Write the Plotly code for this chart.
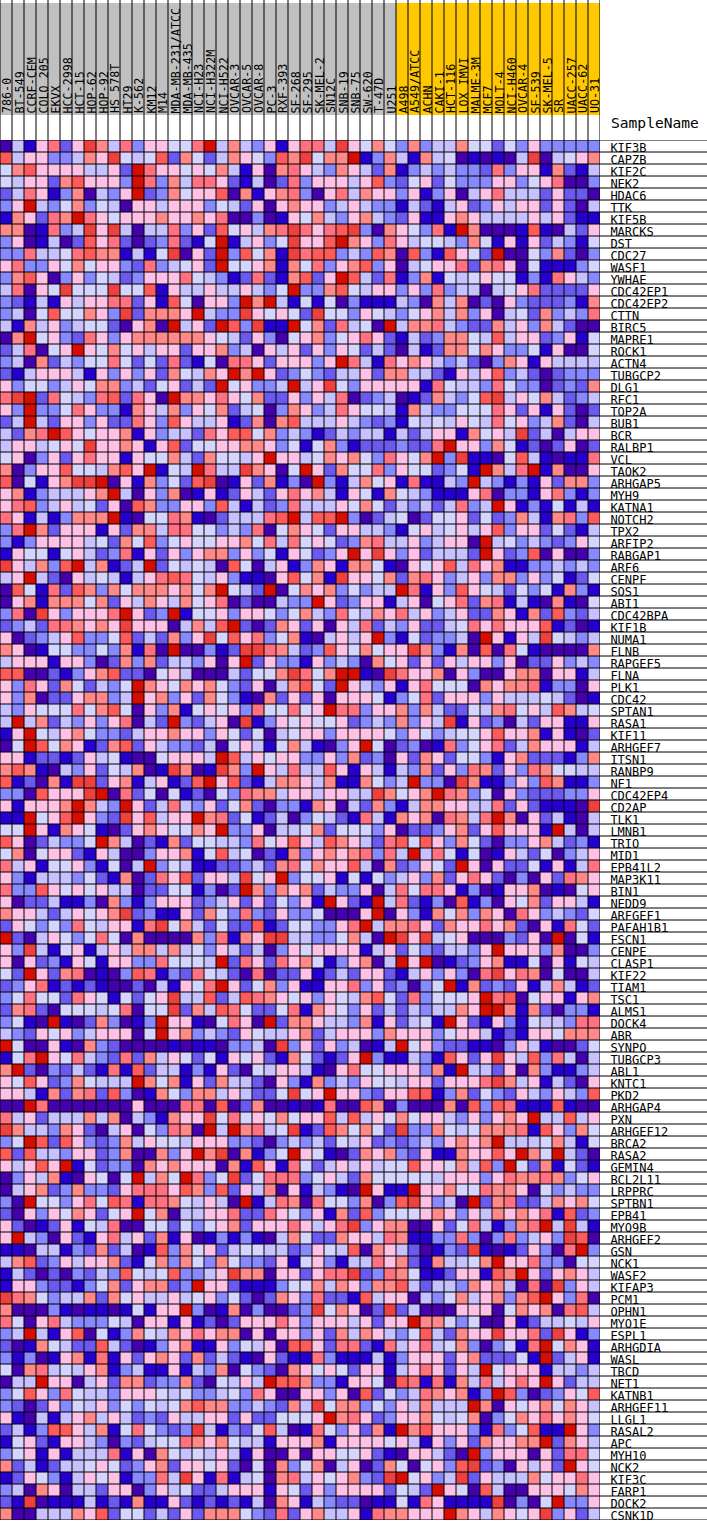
import plotly.graph_objects as go

samples = ["786-0","BT-549","CCRF-CEM","COLO 205","EKVX","HCC-2998","HCT-15","HOP-62","HOP-92","HS 578T",
           "HT29","K-562","KM12","M14","MDA-MB-231/ATCC","MDA-MB-435","NCI-H23","NCI-H322M","NCI-H522","OVCAR-3",
           "OVCAR-5","OVCAR-8","PC-3","RXF-393","SF-268","SF-295","SK-MEL-2","SN12C","SNB-19","SNB-75",
           "SW-620","T-47D","U251","A498","A549/ATCC","ACHN","CAKI-1","HCT-116","LOX IMVI","MALME-3M",
           "MCF7","MOLT-4","NCI-H460","OVCAR-4","SF-539","SK-MEL-5","SR","UACC-257","UACC-62","UO-31"]
sample_group = [0]*33 + [1]*17

genes = ["KIF3B","CAPZB","KIF2C","NEK2","HDAC6","TTK","KIF5B","MARCKS","DST","CDC27",
         "WASF1","YWHAE","CDC42EP1","CDC42EP2","CTTN","BIRC5","MAPRE1","ROCK1","ACTN4","TUBGCP2",
         "DLG1","RFC1","TOP2A","BUB1","BCR","RALBP1","VCL","TAOK2","ARHGAP5","MYH9",
         "KATNA1","NOTCH2","TPX2","ARFIP2","RABGAP1","ARF6","CENPF","SOS1","ABI1","CDC42BPA",
         "KIF1B","NUMA1","FLNB","RAPGEF5","FLNA","PLK1","CDC42","SPTAN1","RASA1","KIF11",
         "ARHGEF7","ITSN1","RANBP9","NF1","CDC42EP4","CD2AP","TLK1","LMNB1","TRIO","MID1",
         "EPB41L2","MAP3K11","BIN1","NEDD9","ARFGEF1","PAFAH1B1","FSCN1","CENPE","CLASP1","KIF22",
         "TIAM1","TSC1","ALMS1","DOCK4","ABR","SYNPO","TUBGCP3","ABL1","KNTC1","PKD2",
         "ARHGAP4","PXN","ARHGEF12","BRCA2","RASA2","GEMIN4","BCL2L11","LRPPRC","SPTBN1","EPB41",
         "MYO9B","ARHGEF2","GSN","NCK1","WASF2","KIFAP3","PCM1","OPHN1","MYO1E","ESPL1",
         "ARHGDIA","WASL","TBCD","NET1","KATNB1","ARHGEF11","LLGL1","RASAL2","APC","MYH10",
         "NCK2","KIF3C","FARP1","DOCK2","CSNK1D"]

palette = ["#4500AD","#2700D1","#6B58EF","#8888FF","#C7C1FF","#D5D5FF",
           "#FFC0E5","#FF8989","#FF7080","#FF5A5A","#EF4040","#D60C00"]

# colour level of every cell, one row per gene (0-9, a, b)
levels = [
"0,4,1,6,8,2,6,a,7,4,8,3,6,6,5,5,8,b,4,7,4,3,6,1,6,8,8,4,a,6,5,7,5,3,7,3,4,4,7,5,5,2,5,3,6,3,3,3,3,3",
"9,4,6,6,3,3,4,7,6,a,5,4,5,9,2,7,5,2,4,7,6,5,3,9,7,a,5,7,7,b,1,3,7,4,1,7,4,5,0,1,0,1,0,4,a,0,4,5,6,7",
"5,7,9,6,6,6,6,4,4,6,2,b,8,6,6,5,6,5,7,4,1,6,0,7,8,6,4,3,7,6,4,2,7,1,3,4,3,4,3,3,2,8,3,6,6,1,7,2,1,4",
"5,4,6,6,2,7,9,6,6,6,3,b,8,3,7,4,8,8,6,2,1,4,0,2,8,3,6,6,6,4,6,9,3,2,5,6,2,5,3,3,3,6,6,3,5,6,8,0,0,3",
"2,4,8,6,1,3,7,0,4,3,6,b,2,3,7,5,6,6,9,0,7,1,6,7,8,3,0,6,8,4,7,6,6,3,6,1,3,6,0,4,6,8,4,4,4,2,6,2,2,0",
"3,6,b,4,3,5,7,3,5,4,0,6,6,4,6,6,6,3,5,4,2,6,0,6,7,6,6,3,4,6,4,3,3,1,4,2,1,4,6,2,3,6,4,6,6,2,6,2,0,4",
"1,7,6,2,8,7,b,8,6,5,6,6,6,7,6,6,7,6,8,0,0,3,0,1,6,5,7,4,3,6,7,4,3,2,6,1,1,6,7,6,4,4,4,4,6,4,6,2,1,1",
"7,7,0,1,8,3,4,a,6,a,4,0,4,4,8,3,6,2,9,5,6,4,7,8,a,8,6,8,9,a,3,0,7,6,5,3,8,1,b,7,0,0,0,1,9,1,0,4,2,6",
"3,6,0,1,4,0,2,9,6,8,2,0,2,3,8,2,1,5,b,1,4,6,3,5,a,6,6,9,b,7,6,3,8,6,4,5,5,4,3,7,5,1,6,1,6,2,4,3,1,5",
"3,3,8,4,4,5,8,9,7,7,1,4,1,5,a,0,6,2,b,3,9,5,7,1,a,8,9,9,3,4,3,9,7,0,9,3,1,9,6,5,2,b,0,0,5,3,7,2,0,3",
"6,8,3,3,6,5,7,5,6,6,3,2,8,3,4,5,6,2,b,5,5,6,7,1,7,5,8,3,6,7,9,3,6,0,4,5,6,6,8,2,7,8,6,0,5,1,1,1,3,5",
"3,7,9,6,0,3,6,3,5,4,2,3,6,6,6,8,5,4,3,1,2,8,2,1,7,9,2,6,b,9,4,2,8,1,3,7,1,5,4,5,6,5,5,1,3,1,8,6,4,3",
"4,8,0,6,5,a,5,5,5,a,5,5,9,1,6,4,4,6,4,4,6,4,3,5,b,3,3,7,9,5,4,6,6,3,6,3,8,3,4,4,0,4,5,6,8,2,2,2,2,6",
"3,2,1,4,1,6,4,6,6,8,8,2,6,1,9,5,0,6,6,3,b,7,b,4,1,5,1,5,0,3,1,1,1,4,3,0,7,4,7,0,2,0,6,3,2,2,2,3,1,7",
"3,4,0,5,9,5,5,7,6,3,a,2,7,7,7,6,b,4,3,3,a,6,5,6,5,2,a,5,5,3,6,5,4,3,5,6,7,4,7,3,6,0,4,5,2,7,3,4,3,8",
"4,1,7,4,6,3,4,5,5,2,0,6,7,0,b,4,6,2,b,9,3,a,1,1,b,5,7,2,8,4,5,0,b,4,7,7,8,4,3,2,2,7,4,6,3,7,4,2,0,0",
"0,7,b,5,6,3,2,8,6,3,6,7,7,7,7,7,7,6,5,4,2,6,3,0,5,6,7,3,5,6,8,6,2,1,4,2,3,7,7,5,4,9,4,6,6,2,3,6,1,5",
"2,4,8,0,5,6,b,6,5,7,5,6,4,6,6,2,6,6,7,3,4,0,6,4,6,2,6,3,6,5,2,4,2,0,4,1,2,7,7,5,7,6,3,3,5,1,6,0,0,5",
"3,4,0,7,2,4,3,5,5,8,5,2,5,2,8,2,1,5,0,8,8,6,2,6,6,6,3,6,b,8,4,1,8,6,7,6,4,3,4,2,0,3,7,6,1,6,4,4,4,4",
"2,1,4,6,6,6,4,1,6,3,6,3,6,2,7,5,4,7,6,b,7,b,6,2,3,5,3,2,4,4,6,2,7,7,4,4,2,1,6,4,6,9,3,4,2,0,2,3,3,3",
"6,3,5,5,3,4,6,5,7,7,3,4,2,5,6,2,4,2,b,5,6,3,3,4,b,4,6,a,5,3,6,6,6,6,6,1,8,5,4,4,3,8,5,3,3,0,2,3,2,7",
"8,a,b,2,8,5,4,3,8,9,2,8,6,0,b,7,7,6,8,6,5,7,2,2,6,3,6,4,8,0,2,3,4,0,1,2,7,4,3,5,9,a,4,6,5,7,4,2,3,4",
"6,3,b,3,3,5,8,6,3,3,1,7,6,4,7,3,6,5,7,2,4,5,0,3,7,6,3,4,8,6,5,5,4,1,7,4,3,3,5,5,5,8,6,2,6,1,6,2,0,2",
"2,4,b,4,2,6,6,3,6,2,2,8,6,3,9,6,4,4,6,1,2,7,0,7,9,4,4,4,6,4,3,2,3,1,5,4,5,4,6,5,4,8,5,6,3,4,7,2,0,4",
"4,2,7,8,b,9,6,5,6,6,7,1,6,3,4,4,2,8,6,9,9,5,7,3,4,3,1,2,4,3,4,4,1,4,2,4,6,6,1,7,5,6,4,a,2,4,0,4,6,6",
"4,6,6,4,5,6,5,a,6,6,7,6,1,6,9,2,5,5,6,6,7,7,6,3,5,1,5,7,3,1,2,2,2,3,2,2,8,b,6,6,3,7,5,1,2,0,2,6,0,2",
"5,6,0,3,6,2,6,8,6,6,1,6,5,5,7,4,2,7,5,5,4,6,b,6,6,4,5,7,6,7,5,3,8,6,5,7,b,3,a,1,1,0,5,9,4,1,0,1,1,8",
"7,0,3,6,6,9,5,5,4,7,9,6,b,1,5,4,b,8,4,4,a,7,6,0,5,b,6,2,7,5,5,8,3,6,5,5,2,3,5,1,b,7,4,8,b,1,7,0,0,6",
"9,0,5,1,6,7,a,a,b,0,6,1,7,3,5,2,9,a,0,1,6,2,7,1,3,0,b,3,1,4,7,5,6,1,8,1,1,4,3,b,4,3,1,3,1,6,2,7,7,3",
"6,7,1,3,4,4,4,6,7,b,4,0,6,3,7,0,1,6,1,2,6,4,2,6,8,6,7,4,1,6,5,1,7,5,4,3,1,1,1,6,8,0,3,3,1,6,8,3,1,3",
"6,8,9,3,4,6,4,5,2,6,0,9,7,3,3,6,6,3,9,4,1,4,2,3,8,4,4,4,6,5,7,5,2,4,3,4,2,4,8,3,4,b,6,1,3,1,5,1,4,1",
"8,6,1,4,1,3,7,7,7,b,1,0,5,5,8,7,1,0,2,4,4,4,8,9,b,4,9,9,b,3,0,2,4,5,0,2,5,5,6,2,5,2,3,7,4,1,7,8,3,9",
"3,8,b,7,2,6,6,6,1,6,2,7,7,4,8,8,5,5,3,4,3,8,0,5,7,6,5,2,6,6,4,4,3,1,5,6,4,5,6,4,6,9,3,6,6,2,5,2,1,4",
"3,1,3,6,6,6,6,4,5,2,7,5,9,3,5,6,5,5,6,6,7,5,8,4,8,5,6,5,2,3,7,8,4,4,6,3,4,6,6,0,b,4,5,3,4,3,2,3,6,5",
"1,6,5,5,1,5,6,4,2,3,8,1,6,2,6,3,6,7,7,3,6,3,5,1,6,5,2,3,6,b,6,a,6,3,6,2,4,4,4,2,b,6,2,3,9,0,6,0,0,3",
"a,6,4,7,3,9,b,4,7,1,2,4,b,2,5,4,5,4,0,9,5,0,4,6,1,3,7,6,1,7,7,5,1,0,6,5,6,9,4,8,6,7,1,1,3,3,4,3,4,3",
"4,6,b,4,2,0,6,4,5,4,1,4,6,8,9,8,5,4,6,3,1,1,0,6,9,5,7,1,a,6,6,5,7,2,7,8,6,3,4,6,3,7,7,3,6,3,5,1,2,5",
"0,9,5,1,8,2,9,7,3,7,5,7,7,7,6,7,5,7,b,5,4,2,b,0,5,7,6,7,3,5,3,4,4,b,8,1,6,3,9,6,5,4,2,5,3,5,1,7,3,1",
"0,6,7,1,7,7,7,5,7,2,6,4,7,6,4,7,5,6,8,0,2,0,0,4,3,3,b,6,2,3,6,6,1,4,6,0,5,6,8,2,7,8,1,4,1,0,7,1,0,5",
"3,8,0,a,6,3,6,6,6,8,b,6,2,3,b,1,5,5,6,3,6,6,5,3,5,7,4,3,8,5,4,7,6,8,4,6,3,4,6,2,2,7,6,1,7,2,9,3,2,4",
"2,3,4,2,8,8,7,6,7,6,a,6,6,6,0,4,7,4,9,b,2,0,2,7,6,2,6,0,6,4,8,2,4,3,6,2,2,4,5,8,6,8,6,6,6,9,1,2,0,1",
"6,0,2,3,4,6,9,3,3,5,9,2,4,2,7,3,6,a,5,9,6,8,3,5,7,1,0,4,6,4,6,b,3,1,5,2,3,3,4,0,b,6,1,6,4,a,5,4,3,4",
"7,6,0,1,5,5,3,3,5,3,7,1,8,0,b,0,0,3,1,2,a,a,8,7,4,2,3,9,6,5,7,5,6,6,a,7,3,1,7,0,9,0,8,5,1,0,0,0,0,7",
"4,6,6,6,1,6,6,3,0,2,7,3,7,2,4,4,3,6,0,6,b,2,6,3,3,1,6,3,4,3,0,7,5,6,2,6,2,6,4,6,6,3,6,0,2,2,6,3,4,3",
"9,9,0,0,2,1,3,6,7,9,2,2,0,5,6,4,0,0,0,4,2,5,5,7,a,8,5,7,b,b,1,0,a,8,6,6,7,0,6,3,0,0,6,7,7,0,6,6,1,4",
"6,3,8,6,2,7,5,2,4,3,5,b,7,6,5,7,6,7,5,3,2,6,0,4,7,9,5,2,b,6,4,3,6,1,6,8,5,5,5,0,7,6,7,7,8,1,3,3,0,6",
"6,3,7,0,2,2,6,7,7,3,4,b,6,7,3,6,2,7,5,3,1,0,7,2,6,2,6,0,6,6,6,5,1,3,5,8,2,6,6,6,3,6,4,4,4,5,4,2,0,1",
"4,3,6,5,5,5,8,5,7,9,5,0,6,3,7,1,5,6,5,6,3,8,5,5,8,5,6,b,8,8,3,6,6,7,3,7,4,2,2,5,4,7,8,5,6,4,9,7,4,5",
"4,b,4,7,2,4,3,6,3,6,8,0,4,2,b,3,2,4,6,0,a,1,3,6,5,6,5,5,6,2,3,4,3,7,3,6,4,a,1,6,2,3,0,4,2,6,6,1,1,6",
"1,6,b,5,4,6,7,5,3,3,2,4,6,6,7,6,6,3,6,5,2,5,0,4,5,6,6,3,6,6,6,6,5,3,6,5,3,4,5,5,6,9,6,6,7,1,6,1,0,2",
"0,5,b,9,5,7,6,1,2,7,9,2,6,4,3,3,2,4,0,5,6,4,1,5,7,4,1,0,3,6,b,5,0,2,3,0,1,8,3,5,6,8,2,4,7,6,6,6,1,4",
"6,6,1,2,2,1,2,6,4,5,1,0,0,5,6,6,6,4,b,9,4,6,5,6,6,3,3,6,3,7,2,3,0,6,2,7,6,2,5,5,3,1,6,7,2,2,2,1,3,7",
"7,9,7,1,0,4,3,6,2,5,4,7,0,1,a,7,0,1,a,7,3,b,6,4,8,4,4,9,6,1,6,4,1,4,3,7,2,6,3,8,7,2,6,3,8,7,5,5,4,4",
"9,1,2,0,7,1,a,a,2,6,7,1,4,6,1,2,9,b,6,9,2,1,4,7,7,6,4,7,1,1,7,5,3,4,b,3,3,0,a,7,1,1,3,6,3,9,7,1,1,3",
"3,3,0,9,6,6,6,a,b,0,8,2,5,0,5,1,2,0,5,3,8,7,7,4,6,6,4,6,6,4,4,a,7,5,6,7,b,8,7,3,5,0,6,3,2,2,2,3,3,6",
"6,1,6,6,6,7,b,7,4,3,b,6,2,4,8,4,3,6,2,5,7,2,0,3,3,1,7,6,0,4,2,7,3,1,4,7,7,6,6,4,4,8,2,6,2,1,1,1,0,a",
"1,1,b,5,6,9,b,6,3,2,a,6,9,4,6,6,b,7,8,2,5,1,2,4,0,3,5,4,2,1,8,4,1,7,6,7,0,8,7,4,8,b,7,0,6,2,4,1,0,4",
"5,5,b,6,1,7,6,5,1,0,2,6,7,6,5,5,7,6,b,3,3,6,0,4,4,5,7,2,5,5,5,3,6,0,2,2,3,6,7,2,6,9,6,6,6,1,b,4,0,4",
"9,6,0,2,4,3,3,5,b,7,4,0,2,1,7,2,5,5,4,4,3,8,5,6,9,6,4,9,7,6,4,2,8,9,5,9,6,3,7,5,2,0,3,3,6,7,4,2,3,1",
"5,7,0,5,6,6,2,1,6,4,0,0,3,6,6,7,1,5,9,4,5,0,2,1,7,3,6,7,6,7,8,3,8,4,b,4,8,5,1,5,0,1,6,4,2,5,0,3,4,6",
"8,4,6,1,5,5,6,3,1,5,0,4,b,3,5,4,1,1,2,2,3,4,2,7,8,5,7,6,6,9,4,0,7,2,3,6,5,2,b,6,0,6,2,2,5,1,6,1,4,8",
"6,3,1,4,4,4,3,5,2,1,7,0,2,8,6,9,2,6,6,4,a,5,6,b,3,5,5,6,1,5,1,5,3,4,6,3,7,2,6,8,6,2,0,3,0,6,2,8,7,6",
"8,3,3,9,6,5,6,5,6,4,4,0,2,2,5,5,1,3,0,2,b,7,3,7,6,7,2,4,3,3,6,0,4,8,5,8,8,6,1,3,0,1,6,6,7,0,1,0,5,6",
"6,0,2,2,4,1,1,3,0,7,3,1,3,6,6,6,2,3,4,6,2,6,2,5,3,6,1,b,6,2,1,b,4,8,2,1,3,0,9,1,3,0,6,5,7,2,6,6,4,1",
"7,6,6,4,2,4,6,5,6,7,a,2,3,1,1,6,2,7,5,3,8,3,2,6,3,3,5,0,0,0,6,b,0,6,3,1,7,5,7,3,7,6,0,8,6,3,4,3,2,5",
"2,6,5,3,5,3,8,5,4,6,6,1,8,a,5,7,4,2,5,2,2,9,1,2,5,5,3,3,6,8,b,4,7,7,8,6,2,7,6,6,8,6,7,2,0,6,1,8,5,2",
"b,2,0,4,6,5,3,5,8,5,0,7,0,0,0,0,7,3,8,1,7,6,a,a,4,4,3,3,5,7,4,0,b,a,6,a,4,5,6,0,0,0,3,2,6,0,b,0,5,1",
"6,3,a,4,1,5,6,1,4,6,4,7,7,4,7,4,5,3,6,4,2,4,0,3,6,5,6,6,6,6,1,4,6,2,5,3,2,4,4,3,6,b,6,6,6,3,7,0,0,3",
"6,0,6,2,3,1,6,5,1,6,6,3,3,8,5,5,5,4,b,2,8,6,2,8,6,7,5,1,3,6,7,0,4,b,6,b,0,1,2,3,6,7,1,1,5,0,6,1,5,4",
"5,2,b,6,2,7,8,0,1,0,3,9,8,1,3,2,8,5,4,2,0,8,0,2,2,6,1,2,4,2,6,6,2,1,4,6,3,6,3,0,8,a,6,8,7,0,5,0,0,4",
"2,3,6,8,1,2,1,2,1,0,0,2,0,4,1,6,5,8,b,6,2,5,7,3,6,1,1,6,6,8,3,6,2,3,0,3,5,b,1,7,2,3,2,6,1,4,7,4,1,2",
"3,5,8,5,5,2,8,6,5,1,5,2,5,6,a,4,4,9,2,4,9,8,7,6,5,6,3,6,5,4,7,9,5,2,8,3,5,5,5,6,b,8,9,0,5,6,6,1,6,7",
"2,7,8,2,0,5,5,5,4,5,8,0,5,5,a,2,7,4,9,8,5,2,2,5,8,1,7,6,5,3,6,2,4,2,4,3,4,4,7,6,b,b,7,1,7,2,0,3,3,1",
"3,5,1,0,b,1,0,2,7,3,0,1,3,b,6,6,1,0,5,8,6,0,b,2,7,7,6,4,4,3,7,1,6,2,4,5,1,b,6,2,1,6,3,1,5,4,4,3,8,8",
"4,3,2,6,5,6,3,4,6,6,6,0,5,b,6,7,3,4,3,2,6,5,4,4,6,7,2,4,6,6,6,3,7,6,6,6,3,5,6,6,4,1,2,1,6,6,5,7,7,7",
"b,5,0,0,6,1,0,7,3,2,0,0,0,0,1,0,1,1,0,3,3,4,0,a,3,6,2,6,3,4,0,1,4,b,5,6,3,2,2,1,1,0,3,6,4,1,0,0,2,5",
"1,5,8,b,6,5,8,4,3,2,8,2,7,4,6,5,2,5,1,6,5,6,2,1,7,5,2,1,2,6,b,3,1,1,4,3,1,9,6,2,6,a,6,4,9,3,8,4,0,4",
"7,b,2,0,3,2,4,2,1,8,1,9,2,4,4,1,3,1,6,2,0,5,4,6,6,4,1,0,6,8,5,5,6,6,6,3,7,1,b,4,4,2,6,0,7,3,1,1,3,4",
"6,5,9,6,2,3,7,5,4,4,4,b,7,5,7,1,6,2,7,4,4,2,0,6,3,1,7,3,4,3,6,5,5,4,6,6,2,6,6,6,8,a,7,4,6,1,4,2,0,6",
"6,6,4,1,7,2,7,8,2,9,3,0,1,7,5,3,7,7,4,6,4,2,2,5,a,5,6,b,6,6,3,2,6,6,9,9,1,3,7,2,5,3,2,6,4,3,6,4,3,9",
"0,0,b,8,0,0,0,0,0,0,0,6,0,0,0,8,8,0,9,0,2,7,0,0,1,0,1,8,0,0,9,7,0,3,0,0,0,7,0,9,3,9,8,1,1,1,9,1,0,0",
"8,4,6,2,4,4,4,7,4,7,0,4,3,1,7,6,6,a,5,8,5,6,5,7,5,6,6,9,4,9,4,6,5,7,5,6,6,4,3,6,3,6,7,6,b,4,4,9,4,6",
"a,7,4,4,3,7,6,2,0,4,6,0,5,3,8,7,0,b,4,b,7,8,4,5,a,1,2,9,7,5,7,5,2,a,3,3,7,5,4,5,7,7,7,8,1,9,6,3,7,5",
"3,5,b,9,2,9,6,3,2,3,7,4,6,5,5,4,6,6,6,3,3,2,0,3,4,3,4,2,5,4,6,2,3,2,3,4,3,6,7,6,7,b,4,4,4,5,7,4,1,5",
"9,2,9,4,4,3,6,6,2,3,7,0,0,7,3,6,b,7,a,0,7,1,3,5,b,6,5,1,0,2,7,6,7,3,2,6,1,1,7,6,6,9,6,b,7,5,b,4,2,0",
"6,4,6,9,6,b,1,5,2,3,3,0,7,6,7,6,6,6,0,7,1,9,6,1,8,5,2,4,6,4,6,4,5,5,9,6,6,5,7,4,9,3,b,5,2,7,1,5,2,1",
"0,3,6,4,7,1,0,6,5,0,5,b,4,7,5,b,8,3,5,a,2,5,8,8,8,3,5,6,4,2,7,5,5,5,5,5,4,6,6,6,3,6,8,7,7,8,7,3,5,6",
"0,4,6,7,2,3,7,3,3,2,6,8,8,8,6,9,7,3,9,2,6,4,7,0,6,1,4,3,1,0,b,6,1,1,b,6,6,7,5,5,8,7,7,6,0,5,3,4,3,3",
"3,0,b,5,5,3,6,8,5,9,8,1,8,8,7,5,4,6,4,0,b,1,4,8,7,0,8,5,5,3,7,0,3,9,a,6,3,4,0,b,2,7,8,2,2,4,7,6,7,5",
"2,0,6,3,6,5,7,6,2,5,6,b,5,7,0,4,4,6,6,8,2,2,8,6,5,3,6,1,7,2,9,3,5,5,5,6,7,6,3,6,4,7,6,7,6,8,1,9,2,3",
"6,2,0,1,2,6,1,5,4,8,0,0,5,5,2,5,3,5,6,7,2,6,6,6,8,6,4,6,8,a,3,6,7,7,0,0,6,2,5,8,4,1,3,7,8,b,4,a,4,1",
"6,b,4,3,0,6,2,1,6,8,4,6,2,7,1,6,0,1,3,1,3,1,0,4,7,5,2,2,7,6,6,4,8,7,1,1,3,3,8,3,0,3,8,3,4,6,3,a,9,0",
"1,1,0,4,4,1,3,2,7,2,4,0,1,9,3,7,5,6,2,4,5,5,4,4,2,3,6,5,4,9,0,7,6,4,2,0,1,3,2,a,1,0,1,2,6,3,0,8,b,3",
"4,7,9,2,3,6,4,6,6,7,2,1,5,7,3,7,5,3,7,5,3,3,2,6,1,5,6,3,1,4,4,8,6,7,2,1,7,4,4,5,7,b,6,6,8,3,3,0,5,5",
"1,4,2,0,2,0,3,2,4,3,9,5,4,5,9,3,3,4,6,a,7,7,0,6,6,2,6,8,8,a,2,3,8,7,5,1,1,2,6,6,1,9,7,b,6,2,6,7,6,4",
"1,6,6,3,2,2,1,3,5,7,2,6,7,7,2,3,b,6,6,2,1,1,1,3,5,5,7,4,7,6,3,7,7,9,4,2,4,4,3,7,6,7,4,0,8,0,a,3,6,4",
"a,8,7,5,3,4,4,7,2,7,5,6,4,4,6,4,5,6,3,5,2,0,2,7,6,3,8,2,2,1,9,4,6,6,0,4,3,5,7,4,6,7,3,7,9,b,6,3,8,0",
"7,0,0,0,3,1,0,1,1,0,1,5,1,6,6,b,3,0,1,7,0,3,0,0,2,3,a,5,7,6,0,2,a,2,4,0,0,0,6,6,6,0,5,7,6,7,0,8,9,4",
"8,5,0,6,8,4,3,3,3,5,4,0,6,6,1,6,1,2,0,2,6,6,6,8,6,3,6,6,6,4,6,2,6,6,b,7,7,5,3,5,0,0,6,1,2,4,4,5,4,6",
"3,4,b,4,1,6,9,0,5,1,3,7,5,4,7,6,8,6,7,7,0,6,0,6,6,3,6,2,7,4,7,6,4,3,5,9,4,2,7,6,6,a,6,6,8,2,a,6,1,3",
"2,0,1,7,5,4,2,2,9,4,2,0,1,3,6,7,1,1,6,3,5,4,6,0,9,9,6,2,8,8,2,1,8,4,6,8,4,5,7,3,0,3,5,1,8,b,5,7,6,1",
"3,1,3,0,1,6,7,1,8,1,6,2,6,7,6,2,7,2,4,2,1,0,6,2,1,1,8,3,1,1,1,4,1,3,6,6,6,2,6,7,2,2,2,5,1,b,2,4,6,1",
"5,0,7,8,4,5,4,6,7,1,3,4,1,1,6,1,4,3,7,0,5,3,2,0,7,6,5,6,5,2,6,6,1,4,6,8,6,2,6,4,b,5,6,6,6,1,4,4,3,4",
"0,4,4,b,6,6,0,4,6,2,7,7,2,3,3,7,2,0,5,4,6,4,b,9,9,7,3,3,1,6,6,5,0,9,8,1,8,1,7,4,8,4,6,8,6,b,6,2,4,4",
"3,5,9,6,3,8,5,4,4,3,6,6,6,5,4,5,3,3,4,5,3,8,6,0,0,6,6,3,6,0,9,2,5,3,4,8,7,6,7,1,3,b,9,3,0,2,3,6,5,9",
"3,2,0,2,6,3,5,4,6,3,5,3,5,4,5,7,9,7,7,3,3,4,3,2,7,4,a,5,7,7,3,5,3,6,4,7,4,4,4,b,7,0,6,5,6,7,5,7,6,4",
"6,1,0,4,1,4,6,7,4,6,4,2,3,2,6,4,4,6,6,2,6,2,2,5,5,5,6,b,7,8,6,2,3,6,6,7,5,4,5,7,0,3,5,7,6,8,6,7,6,5",
"2,4,1,3,9,9,6,4,7,1,5,8,5,3,2,3,a,4,1,3,2,5,9,4,0,1,8,5,3,6,2,7,1,b,7,9,6,6,6,3,1,8,3,5,9,1,1,b,6,3",
"1,5,6,2,1,6,6,4,3,0,3,2,4,5,5,8,7,6,7,5,4,4,1,6,6,6,7,1,6,6,6,6,5,6,4,1,6,3,6,2,7,6,6,7,7,b,2,7,6,4",
"3,5,6,1,6,1,4,4,4,8,1,6,0,7,5,4,5,4,6,4,1,6,0,0,6,0,6,6,5,5,6,2,1,0,6,6,4,2,0,b,3,6,6,6,0,6,2,8,8,5",
"7,2,4,1,2,4,4,5,6,5,2,3,6,7,2,6,6,5,6,2,0,5,0,7,3,5,7,0,4,6,0,2,7,5,0,5,6,3,9,a,2,3,0,6,4,6,2,b,6,5",
"1,2,6,5,3,1,4,6,5,6,1,3,3,8,4,a,6,1,8,1,4,5,0,7,8,4,6,5,6,7,3,2,a,b,5,6,3,4,a,2,6,4,4,4,7,5,6,6,8,6",
"3,4,0,7,6,0,4,4,2,6,6,0,3,6,4,5,2,2,4,6,6,6,1,6,5,2,6,3,6,6,6,6,2,5,4,2,b,6,5,0,9,4,0,0,6,6,6,5,7,6",
"2,1,a,0,1,1,1,4,1,2,1,7,1,1,6,2,1,2,1,2,1,4,0,7,6,1,4,3,2,2,0,1,1,5,1,8,6,1,1,1,1,a,0,3,0,5,b,3,3,6",
"7,0,0,4,4,4,7,6,9,2,5,5,2,4,2,6,2,7,7,7,5,3,2,8,2,6,7,4,4,6,1,8,7,7,6,6,6,b,7,6,4,7,6,5,6,a,3,6,2,4",
]

W, H = 707, 1521
PLOT_W, HEAD_H = 600, 140
MONO = "DejaVu Sans Mono"

z = []
for row in levels:
    cells = [int(c, 16) for c in row.split(",")]
    z.append((cells + [6] * 50)[:50])

n = len(palette)
scale = []
for i, c in enumerate(palette):
    scale += [[i / n, c], [(i + 1) / n, c]]

fig = go.Figure()
fig.add_trace(go.Heatmap(z=z, x=list(range(50)), y=list(range(len(genes))),
                         colorscale=scale, zmin=0, zmax=n, showscale=False,
                         hoverinfo="skip", xaxis="x", yaxis="y"))
# header band: white strip, group colour, white strip (y holds the band edges)
fig.add_trace(go.Heatmap(z=[[2]*50, sample_group, [2]*50],
                         x=list(range(50)), y=[0, 3, 115, 140],
                         colorscale=[[0, "#C0C0C0"], [0.33, "#C0C0C0"], [0.33, "#FFC800"],
                                     [0.66, "#FFC800"], [0.66, "#FFFFFF"], [1, "#FFFFFF"]],
                         zmin=0, zmax=3, showscale=False, hoverinfo="skip",
                         xaxis="x2", yaxis="y2"))

annotations = [dict(text=s, x=i, xref="x", xshift=1, y=1 - 115.5 / H, yref="paper", textangle=-90,
                    xanchor="center", yanchor="bottom", showarrow=False,
                    font=dict(family=MONO, size=11.7, color="#000000"))
               for i, s in enumerate(samples)]
annotations.append(dict(text="SampleName", x=609 / PLOT_W, xref="paper", y=1 - 122 / H, yref="paper",
                        xanchor="left", yanchor="middle", showarrow=False,
                        font=dict(family=MONO, size=14.6, color="#000000")))

grid = dict(color="#000000", width=1)
shapes = [dict(type="line", xref="paper", yref="y", x0=0, x1=W / PLOT_W, y0=i - 0.5, y1=i - 0.5,
               line=grid, layer="above") for i in range(len(genes) + 1)]
shapes += [dict(type="line", xref="x", yref="paper", x0=i - 0.5, x1=i - 0.5, y0=1 / H, y1=1,
                line=grid, layer="above") for i in range(len(samples) + 1)]

fig.update_layout(
    width=W, height=H, autosize=False,
    margin=dict(l=0, r=W - PLOT_W, t=0, b=0, pad=0),
    paper_bgcolor="#FFFFFF", plot_bgcolor="#FFFFFF",
    showlegend=False, annotations=annotations, shapes=shapes,
    xaxis=dict(range=[-0.5, 49.5], domain=[0, 1], showticklabels=False, showgrid=False,
               zeroline=False, ticks="", fixedrange=True),
    yaxis=dict(range=[len(genes) - 0.5, -0.5], domain=[1 / H, (H - HEAD_H) / H], side="right",
               tickmode="array", tickvals=list(range(len(genes))), ticktext=genes,
               ticks="outside", ticklen=7, tickcolor="rgba(0,0,0,0)", showgrid=False,
               zeroline=False, tickfont=dict(family=MONO, size=12, color="#000000"),
               ticklabelshift=-2, ticklabeloverflow="allow", fixedrange=True, automargin=False),
    xaxis2=dict(range=[-0.5, 49.5], domain=[0, 1], anchor="y2", matches="x", showticklabels=False,
                showgrid=False, zeroline=False, ticks=""),
    yaxis2=dict(range=[HEAD_H, 0], domain=[(H - HEAD_H) / H, 1], anchor="x2", showticklabels=False,
                showgrid=False, zeroline=False, ticks=""),
)

fig.write_html("out.html", include_plotlyjs=True, full_html=True,
               config=dict(displayModeBar=False),
               post_script="document.body.style.margin='0';")
